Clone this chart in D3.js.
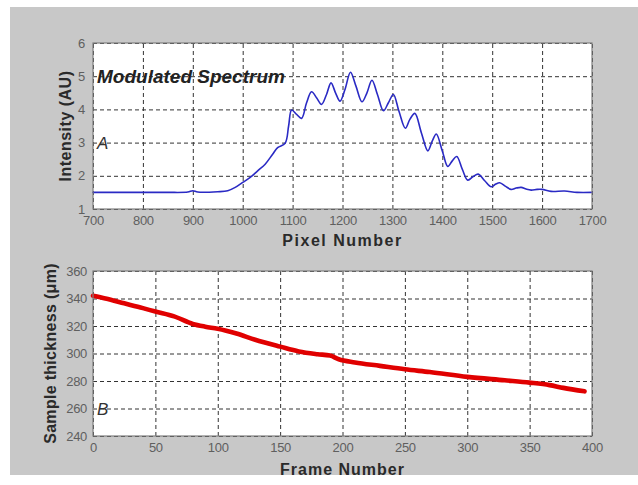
<!DOCTYPE html>
<html><head><meta charset="utf-8">
<script src="https://cdn.jsdelivr.net/npm/d3@7"></script>
<style>body{margin:0;background:#fff}</style></head>
<body><svg id="c" width="638" height="485"></svg>
<script>
// ---- Panel A: modulated spectrum ----
const pixelNumbers = [700,750,800,850,890,900,910,950,970,985,1000,1015,1030,1045,1060,1070,1085,1092,1098,1108,1118,1128,1138,1148,1158,1168,1177,1186,1195,1205,1216,1227,1239,1249,1259,1270,1282,1292,1302,1313,1326,1335,1345,1358,1371,1380,1388,1400,1411,1420,1429,1440,1451,1462,1472,1485,1498,1507,1515,1527,1538,1548,1558,1568,1578,1590,1600,1618,1645,1670,1700];
const intensity = [1.50,1.50,1.50,1.50,1.51,1.55,1.51,1.52,1.55,1.65,1.80,1.95,2.15,2.35,2.65,2.85,2.98,3.50,3.98,3.85,3.73,4.20,4.53,4.35,4.15,4.45,4.80,4.50,4.25,4.60,5.12,4.70,4.23,4.50,4.88,4.45,3.96,4.20,4.45,3.95,3.43,3.70,3.88,3.30,2.75,3.05,3.26,2.75,2.28,2.45,2.58,2.20,1.87,1.98,2.05,1.85,1.67,1.75,1.79,1.68,1.59,1.63,1.65,1.60,1.57,1.59,1.59,1.53,1.54,1.50,1.50];
const pixelTicks = [700,800,900,1000,1100,1200,1300,1400,1500,1600,1700];
const intensityTicks = [1,2,3,4,5,6];

// ---- Panel B: sample thickness ----
const frames = [0,10,25,40,50,65,80,90,100,115,130,150,165,180,190,197,210,230,250,270,300,330,350,366,377,394];
const thickness = [342,340,336.5,333,330.5,327,321.5,319.5,318,314.5,310,305,301.5,299.5,298.5,295.8,293.5,291,288.5,286.5,283,280.5,278.8,277,275,272.5];
const frameTicks = [0,50,100,150,200,250,300,350,400];
const thicknessTicks = [240,260,280,300,320,340,360];

const svg = d3.select("#c");
svg.append("rect").attr("x",10).attr("y",7).attr("width",628).attr("height",468).attr("fill","#c8c8c8");

function panel(opts){
  const {x0,x1,y0,y1,xDomain,yDomain,xTicks,yTicks,xs,ys,color,width,curve,xLabel,yLabel,xLabelY,yLabelX,letter,letterY,yPad,ySpacing,xSpacing} = opts;
  const x = d3.scaleLinear().domain(xDomain).range([x0,x1]);
  const y = d3.scaleLinear().domain(yDomain).range([y1,y0]);
  const g = svg.append("g");
  g.append("rect").attr("x",x0).attr("y",y0).attr("width",x1-x0).attr("height",y1-y0).attr("fill","#fff");
  // grid
  const gx = g.append("g").attr("transform",`translate(0,${y1})`)
    .call(d3.axisBottom(x).tickValues(xTicks).tickSize(-(y1-y0)).tickFormat(""));
  const gy = g.append("g").attr("transform",`translate(${x0},0)`)
    .call(d3.axisLeft(y).tickValues(yTicks).tickSize(-(x1-x0)).tickFormat(""));
  [gx,gy].forEach(a=>{a.select(".domain").remove();
    a.selectAll("line").attr("stroke","#333").attr("stroke-dasharray","4,3").attr("stroke-width",1);});
  // data
  const pts = xs.map((v,i)=>[v,ys[i]]);
  g.append("path").datum(pts).attr("fill","none").attr("stroke",color).attr("stroke-width",width)
    .attr("stroke-linecap","round").attr("stroke-linejoin","round")
    .attr("d",d3.line().x(d=>x(d[0])).y(d=>y(d[1])).curve(curve));
  // frame
  g.append("rect").attr("x",x0).attr("y",y0).attr("width",x1-x0).attr("height",y1-y0)
    .attr("fill","none").attr("stroke","#808080").attr("stroke-width",1.2);
  // tick labels
  const ax = g.append("g").attr("transform",`translate(0,${y1})`)
    .call(d3.axisBottom(x).tickValues(xTicks).tickSize(0).tickPadding(7).tickFormat(d3.format("d")));
  const ay = g.append("g").attr("transform",`translate(${x0},0)`)
    .call(d3.axisLeft(y).tickValues(yTicks).tickSize(0).tickPadding(yPad).tickFormat(d3.format("d")));
  [ax,ay].forEach(a=>{a.select(".domain").remove();
    a.selectAll("text").attr("font-family","Liberation Sans, Arial, sans-serif").attr("font-size",13)
      .attr("fill","#5f5f5f").attr("letter-spacing","-0.3px");});
  // labels
  g.append("text").attr("x",(x0+x1)/2).attr("y",xLabelY).attr("text-anchor","middle")
    .attr("font-family","Liberation Sans, Arial, sans-serif").attr("font-size",16).attr("font-weight","bold")
    .attr("letter-spacing",xSpacing).attr("fill","#2a2a2a").text(xLabel);
  g.append("text").attr("transform",`translate(${yLabelX},${(y0+y1)/2}) rotate(-90)`).attr("text-anchor","middle")
    .attr("font-family","Liberation Sans, Arial, sans-serif").attr("font-size",16).attr("font-weight","bold")
    .attr("letter-spacing",ySpacing).attr("fill","#2a2a2a").text(yLabel);
  g.append("text").attr("x",x0+4).attr("y",y(letterY)).attr("dy","0.36em")
    .attr("font-family","Liberation Sans, Arial, sans-serif").attr("font-size",17).attr("font-style","italic")
    .attr("fill","#333").text(letter);
  return {x,y,g};
}

const A = panel({x0:93,x1:592,y0:43,y1:209,xDomain:[700,1700],yDomain:[1,6],xTicks:pixelTicks,yTicks:intensityTicks,
  xs:pixelNumbers,ys:intensity,color:"#2a2ac4",width:1.6,curve:d3.curveCatmullRom.alpha(0.5),
  xLabel:"Pixel Number",yLabel:"Intensity (AU)",xLabelY:246,yLabelX:71,letter:"A",letterY:3,yPad:8,xSpacing:"1.5px",ySpacing:"0.5px"});
A.g.append("text").attr("x",97).attr("y",A.y(5)).attr("dy","0.36em")
  .attr("font-family","Liberation Sans, Arial, sans-serif").attr("font-size",19).attr("font-weight","bold")
  .attr("font-style","italic").attr("fill","#222").text("Modulated Spectrum");

panel({x0:93,x1:592,y0:271,y1:436,xDomain:[0,400],yDomain:[240,360],xTicks:frameTicks,yTicks:thicknessTicks,
  xs:frames,ys:thickness,color:"#e00000",width:4.6,curve:d3.curveMonotoneX,
  xLabel:"Frame Number",yLabel:"Sample thickness (\u03bcm)",xLabelY:475,yLabelX:56,letter:"B",letterY:260,yPad:6,xSpacing:"1px",ySpacing:"0.3px"});
</script></body></html>
